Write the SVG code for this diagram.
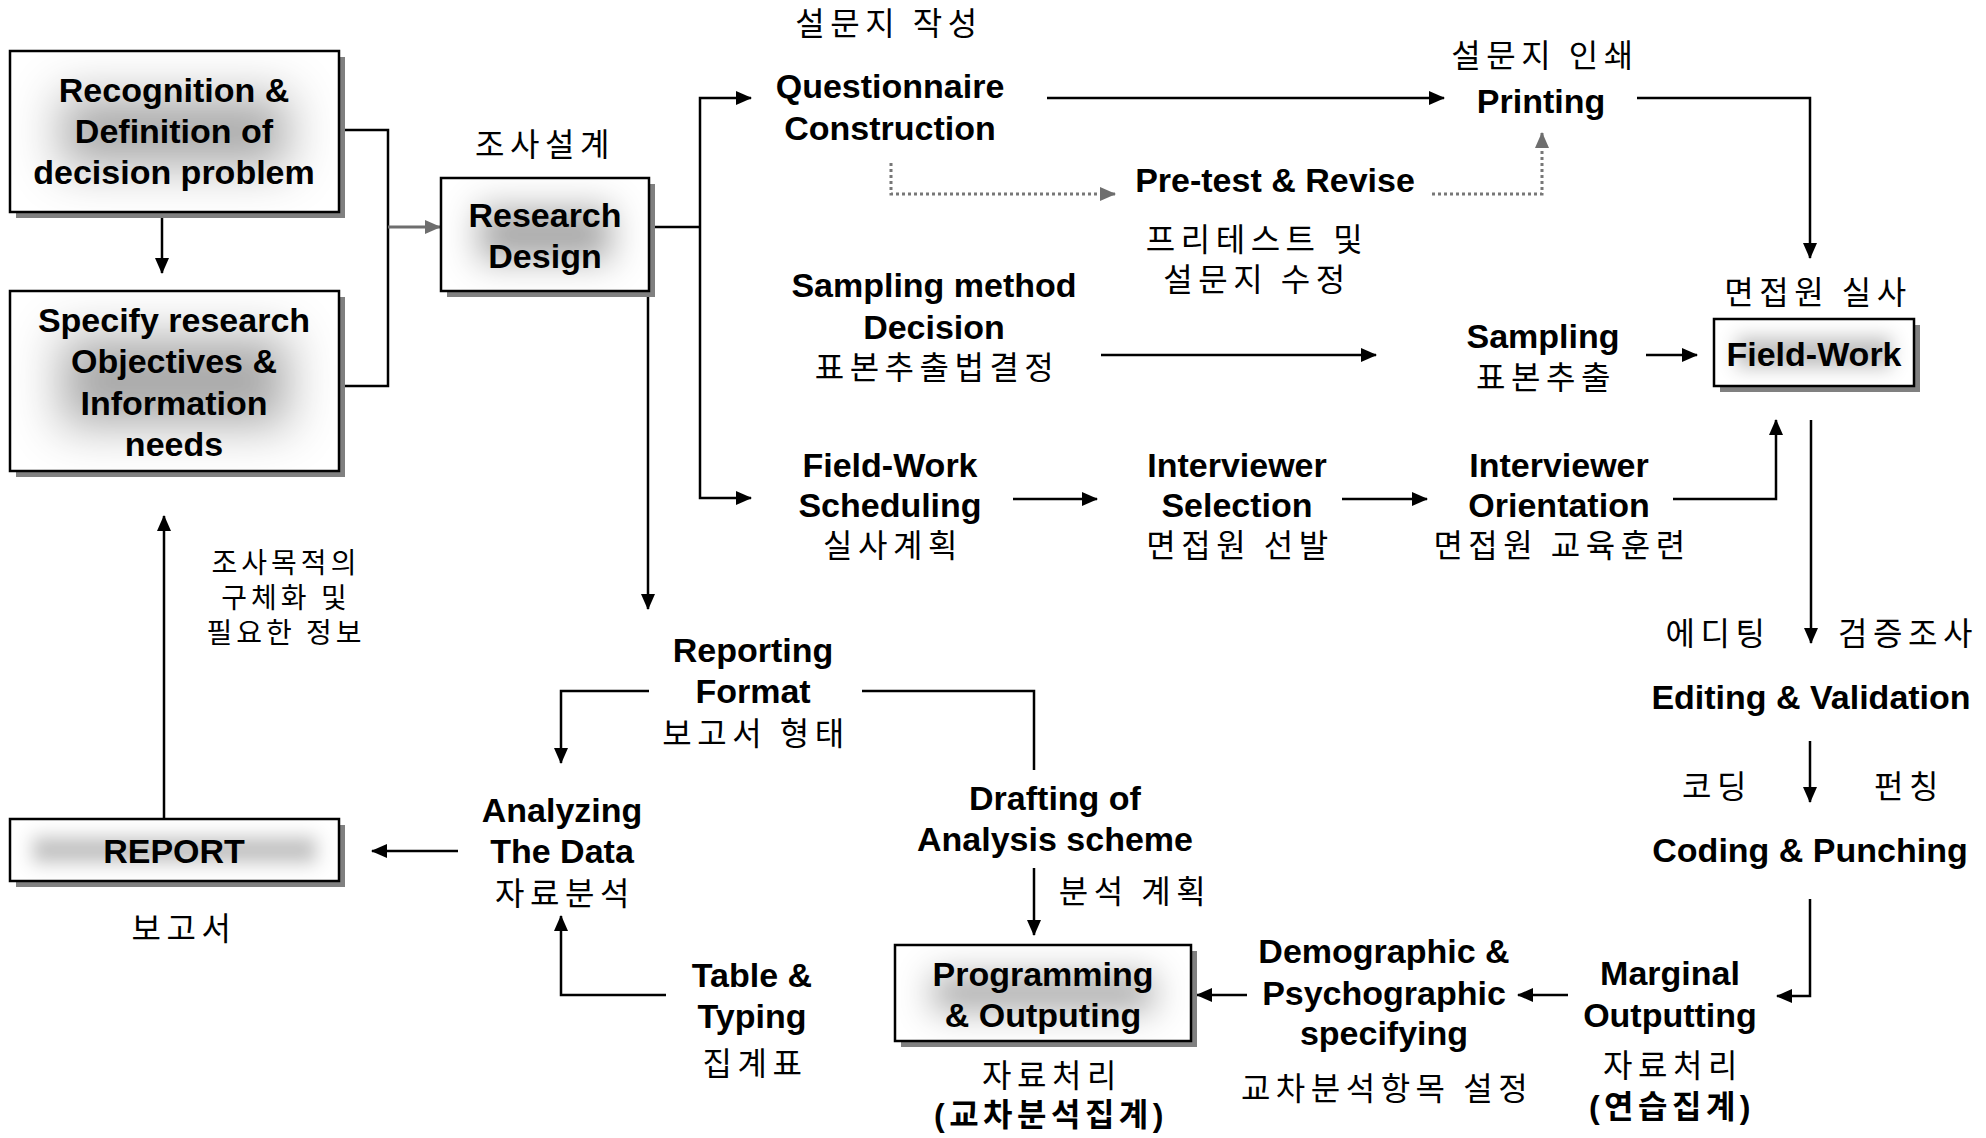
<svg xmlns="http://www.w3.org/2000/svg" width="1986" height="1138" viewBox="0 0 1986 1138">
<style>
.en{font-family:"Liberation Sans",Arial,sans-serif;font-weight:bold;font-size:34px;fill:#000;text-anchor:middle}
.ko{font-family:"Noto Sans CJK KR","Noto Sans CJK SC",sans-serif;font-size:32px;letter-spacing:5.5px;fill:#000;text-anchor:middle}
.kob{font-family:"Liberation Sans","Noto Sans CJK KR",sans-serif;font-weight:bold;font-size:32px;letter-spacing:4.5px;fill:#000;text-anchor:middle}
.ks{font-family:"Noto Sans CJK KR","Noto Sans CJK SC",sans-serif;font-size:28px;letter-spacing:4px;fill:#000;text-anchor:middle}
.shadow{fill:#808080}
.fa{fill:#fff;filter:url(#shadeA)}
.fb{fill:#fff;filter:url(#shadeB)}
.fc{fill:#fff;filter:url(#shadeC)}
.border{fill:none;stroke:#000;stroke-width:2.5}
.ln{fill:none;stroke:#000;stroke-width:2.5}
.la{fill:none;stroke:#000;stroke-width:2.5;marker-end:url(#ah)}
.ga{fill:none;stroke:#6e6e6e;stroke-width:3;marker-end:url(#gah)}
.da{fill:none;stroke:#777;stroke-width:3;stroke-dasharray:3 3;marker-end:url(#gah)}
</style>
<defs>
<marker id="ah" markerUnits="userSpaceOnUse" markerWidth="16" markerHeight="14" refX="15" refY="7" orient="auto">
<path d="M0,0 L16,7 L0,14 z" fill="#000"/>
</marker>
<marker id="gah" markerUnits="userSpaceOnUse" markerWidth="16" markerHeight="14" refX="15" refY="7" orient="auto">
<path d="M0,0 L16,7 L0,14 z" fill="#6e6e6e"/>
</marker>
<filter id="shadeA" x="-5%" y="-5%" width="110%" height="110%">
<feMorphology in="SourceAlpha" operator="erode" radius="48 42" result="e"/>
<feGaussianBlur in="e" stdDeviation="24" result="b"/>
<feComposite in="b" in2="SourceAlpha" operator="in" result="bc"/>
<feFlood flood-color="#aaaaaa" result="f"/>
<feComposite in="f" in2="bc" operator="in" result="g"/>
<feMerge><feMergeNode in="SourceGraphic"/><feMergeNode in="g"/></feMerge>
</filter>
<filter id="shadeB" x="-5%" y="-5%" width="110%" height="110%">
<feMorphology in="SourceAlpha" operator="erode" radius="36 28" result="e"/>
<feGaussianBlur in="e" stdDeviation="17" result="b"/>
<feComposite in="b" in2="SourceAlpha" operator="in" result="bc"/>
<feFlood flood-color="#a8a8a8" result="f"/>
<feComposite in="f" in2="bc" operator="in" result="g"/>
<feMerge><feMergeNode in="SourceGraphic"/><feMergeNode in="g"/></feMerge>
</filter>
<filter id="shadeC" x="-5%" y="-5%" width="110%" height="110%">
<feMorphology in="SourceAlpha" operator="erode" radius="22 17" result="e"/>
<feGaussianBlur in="e" stdDeviation="9" result="b"/>
<feComposite in="b" in2="SourceAlpha" operator="in" result="bc"/>
<feFlood flood-color="#c2c2c2" result="f"/>
<feComposite in="f" in2="bc" operator="in" result="g"/>
<feMerge><feMergeNode in="SourceGraphic"/><feMergeNode in="g"/></feMerge>
</filter>
</defs>

<g id="connectors">
<path class="la" d="M162,212 V273"/>
<path class="ln" d="M339,130 H388 V386 H339"/>
<path class="ga" d="M388,227 H440"/>
<path class="ln" d="M649,227 H700"/>
<path class="la" d="M700,227 V98 H751"/>
<path class="la" d="M700,227 V498 H751"/>
<path class="la" d="M648,291 V609"/>
<path class="la" d="M1047,98 H1444"/>
<path class="la" d="M1637,98 H1810 V258"/>
<path class="da" d="M891,163 V194 H1115"/>
<path class="da" d="M1432,194 H1542 V133"/>
<path class="la" d="M1101,355 H1376"/>
<path class="la" d="M1646,355 H1697"/>
<path class="la" d="M1013,499 H1097"/>
<path class="la" d="M1342,499 H1427"/>
<path class="la" d="M1673,499 H1776 V420"/>
<path class="la" d="M1811,420 V643"/>
<path class="la" d="M1810,741 V802"/>
<path class="la" d="M1810,899 V996 H1777"/>
<path class="la" d="M1568,995 H1518"/>
<path class="la" d="M1247,995 H1197"/>
<path class="la" d="M1034,868 V935"/>
<path class="ln" d="M862,691 H1034 V770"/>
<path class="la" d="M649,691 H561 V763"/>
<path class="la" d="M458,851 H372"/>
<path class="la" d="M666,995 H561 V916"/>
<path class="la" d="M164,819 V516"/>
</g>

<g id="recognition">
<rect class="shadow" x="16" y="57" width="329" height="161"/>
<rect class="fa" x="10" y="51" width="329" height="161"/>
<rect class="border" x="10" y="51" width="329" height="161"/>
<text class="en" x="174" y="102">Recognition &amp;</text>
<text class="en" x="174" y="143">Definition of</text>
<text class="en" x="174" y="184">decision problem</text>
</g>

<g id="specify">
<rect class="shadow" x="16" y="297" width="329" height="180"/>
<rect class="fa" x="10" y="291" width="329" height="180"/>
<rect class="border" x="10" y="291" width="329" height="180"/>
<text class="en" x="174" y="332">Specify research</text>
<text class="en" x="174" y="373">Objectives &amp;</text>
<text class="en" x="174" y="415">Information</text>
<text class="en" x="174" y="456">needs</text>
</g>

<g id="research-design">
<text class="ko" x="545" y="156">조사설계</text>
<rect class="shadow" x="447" y="184" width="208" height="113"/>
<rect class="fb" x="441" y="178" width="208" height="113"/>
<rect class="border" x="441" y="178" width="208" height="113"/>
<text class="en" x="545" y="227">Research</text>
<text class="en" x="545" y="268">Design</text>
</g>

<g id="questionnaire">
<text class="ko" x="889" y="35">설문지 작성</text>
<text class="en" x="890" y="98">Questionnaire</text>
<text class="en" x="890" y="140">Construction</text>
</g>

<g id="printing">
<text class="ko" x="1545" y="67">설문지 인쇄</text>
<text class="en" x="1541" y="113">Printing</text>
</g>

<g id="pretest">
<text class="en" x="1275" y="192">Pre-test &amp; Revise</text>
<text class="ko" x="1257" y="251">프리테스트 및</text>
<text class="ko" x="1257" y="291">설문지 수정</text>
</g>

<g id="sampling-method">
<text class="en" x="934" y="297">Sampling method</text>
<text class="en" x="934" y="339">Decision</text>
<text class="ko" x="937" y="379">표본추출법결정</text>
</g>

<g id="sampling">
<text class="en" x="1543" y="348">Sampling</text>
<text class="ko" x="1546" y="389">표본추출</text>
</g>

<g id="field-work">
<text class="ko" x="1818" y="304">면접원 실사</text>
<rect class="shadow" x="1720" y="325" width="200" height="67"/>
<rect class="fc" x="1714" y="319" width="200" height="67"/>
<rect class="border" x="1714" y="319" width="200" height="67"/>
<text class="en" x="1814" y="366">Field-Work</text>
</g>

<g id="scheduling">
<text class="en" x="890" y="477">Field-Work</text>
<text class="en" x="890" y="517">Scheduling</text>
<text class="ko" x="893" y="557">실사계획</text>
</g>

<g id="selection">
<text class="en" x="1237" y="477">Interviewer</text>
<text class="en" x="1237" y="517">Selection</text>
<text class="ko" x="1240" y="557">면접원 선발</text>
</g>

<g id="orientation">
<text class="en" x="1559" y="477">Interviewer</text>
<text class="en" x="1559" y="517">Orientation</text>
<text class="ko" x="1562" y="557">면접원 교육훈련</text>
</g>

<g id="editing">
<text class="ko" x="1718" y="645">에디팅</text>
<text class="ko" x="1908" y="645">검증조사</text>
<text class="en" x="1811" y="709">Editing &amp; Validation</text>
</g>

<g id="coding">
<text class="ko" x="1717" y="798">코딩</text>
<text class="ko" x="1909" y="798">펀칭</text>
<text class="en" x="1810" y="862">Coding &amp; Punching</text>
</g>

<g id="marginal">
<text class="en" x="1670" y="985">Marginal</text>
<text class="en" x="1670" y="1027">Outputting</text>
<text class="ko" x="1673" y="1077">자료처리</text>
<text class="kob" x="1672" y="1118">(연습집계)</text>
</g>

<g id="demographic">
<text class="en" x="1384" y="963">Demographic &amp;</text>
<text class="en" x="1384" y="1005">Psychographic</text>
<text class="en" x="1384" y="1045">specifying</text>
<text class="ko" x="1387" y="1100">교차분석항목 설정</text>
</g>

<g id="programming">
<rect class="shadow" x="901" y="951" width="296" height="96"/>
<rect class="fb" x="895" y="945" width="296" height="96"/>
<rect class="border" x="895" y="945" width="296" height="96"/>
<text class="en" x="1043" y="986">Programming</text>
<text class="en" x="1043" y="1027">&amp; Outputing</text>
<text class="ko" x="1052" y="1087">자료처리</text>
<text class="kob" x="1051" y="1126">(교차분석집계)</text>
</g>

<g id="drafting">
<text class="en" x="1055" y="810">Drafting of</text>
<text class="en" x="1055" y="851">Analysis scheme</text>
<text class="ko" x="1135" y="903">분석 계획</text>
</g>

<g id="reporting-format">
<text class="en" x="753" y="662">Reporting</text>
<text class="en" x="753" y="703">Format</text>
<text class="ko" x="756" y="745">보고서 형태</text>
</g>

<g id="analyzing">
<text class="en" x="562" y="822">Analyzing</text>
<text class="en" x="562" y="863">The Data</text>
<text class="ko" x="565" y="905">자료분석</text>
</g>

<g id="report">
<rect class="shadow" x="16" y="825" width="329" height="62"/>
<rect class="fc" x="10" y="819" width="329" height="62"/>
<rect class="border" x="10" y="819" width="329" height="62"/>
<text class="en" x="174" y="863">REPORT</text>
<text class="ko" x="184" y="940">보고서</text>
</g>

<g id="objectives-note">
<text class="ks" x="286" y="573">조사목적의</text>
<text class="ks" x="286" y="608">구체화 및</text>
<text class="ks" x="286" y="643">필요한 정보</text>
</g>

<g id="table-typing">
<text class="en" x="752" y="987">Table &amp;</text>
<text class="en" x="752" y="1028">Typing</text>
<text class="ko" x="755" y="1075">집계표</text>
</g>
</svg>
